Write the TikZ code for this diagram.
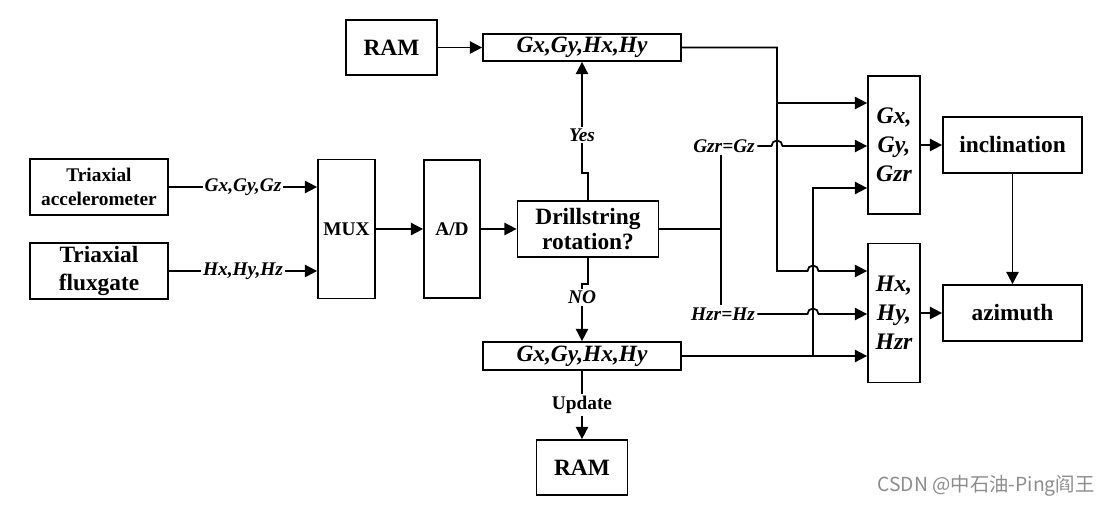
\documentclass[tikz,border=0pt]{standalone}
\usepackage{fontspec}
\setmainfont{Liberation Serif}
\newfontfamily\markfont{Noto Sans CJK SC}
\usetikzlibrary{arrows.meta,positioning,calc}

\begin{document}
\begin{tikzpicture}[x=0.02cm,y=-0.02cm,>={Triangle[length=7pt,width=7pt]},line width=1pt,
  blk/.style={draw,align=center,inner sep=0pt,font=\bfseries\fontsize{13.3}{15.5}\selectfont},
  sig/.style={fill=white,inner sep=1pt,font=\bfseries\itshape\fontsize{11}{13}\selectfont}]
  \useasboundingbox (0,0) rectangle (1109,508);
  % sensors and conversion
  \node[blk,minimum width=2.76cm,minimum height=1.12cm,font=\bfseries\fontsize{11}{13.5}\selectfont] (acc) at (99,187) {Triaxial\\accelerometer};
  \node[blk,minimum width=2.76cm,minimum height=1.12cm,font=\bfseries\fontsize{13.3}{16}\selectfont] (flux) at (99,271) {Triaxial\\fluxgate};
  \node[blk,minimum width=1.14cm,minimum height=2.78cm,font=\bfseries\fontsize{11}{13}\selectfont] (mux) at (346.5,229) {MUX};
  \node[blk,minimum width=1.12cm,minimum height=2.76cm,font=\bfseries\fontsize{11}{13}\selectfont] (ad) at (452,229) {A/D};
  \node[blk,minimum width=2.82cm,minimum height=1.12cm,font=\bfseries\fontsize{13.3}{14.7}\selectfont] (drill) at (588,229) {Drillstring\\rotation?};
  % stored values
  \node[blk,minimum width=1.82cm,minimum height=1.1cm] (ramtop) at (391.5,47.5) {RAM};
  \node[blk,minimum width=3.96cm,minimum height=0.54cm] (gtop) at (582,47.5) {\itshape Gx,Gy,Hx,Hy};
  \node[blk,minimum width=3.96cm,minimum height=0.56cm] (gbot) at (582,356) {\itshape Gx,Gy,Hx,Hy};
  \node[blk,minimum width=1.82cm,minimum height=1.1cm] (rambot) at (582,467.5) {RAM};
  % calculation
  \node[blk,minimum width=1.04cm,minimum height=2.76cm,font=\bfseries\itshape\fontsize{13.5}{16.5}\selectfont] (gbox) at (894,145) {Gx,\\Gy,\\Gzr};
  \node[blk,minimum width=1.04cm,minimum height=2.78cm,font=\bfseries\itshape\fontsize{13.5}{16.5}\selectfont] (hbox) at (894,313) {Hx,\\Hy,\\Hzr};
  \node[blk,minimum width=2.78cm,minimum height=1.12cm] (incl) at (1012.5,145) {inclination};
  \node[blk,minimum width=2.78cm,minimum height=1.12cm] (azi) at (1012.5,313) {azimuth};
  % line labels and bends
  \node[sig,fill=none] (gzr) at (724,146) {Gzr=Gz};
  \node[sig,fill=none] (hzr) at (723,314) {Hzr=Hz};
  \coordinate (split) at (721,229);
  \coordinate (tG) at (777,103);
  \coordinate (tH) at (777,271);
  \coordinate (bG) at (813,188);
  \coordinate (bH) at (813,356);
  % connectors
  \draw[->] (acc) -- node[sig] {Gx,Gy,Gz} (acc -| mux.west);
  \draw[->] (flux) -- node[sig] {Hx,Hy,Hz} (flux -| mux.west);
  \draw[->] (mux) -- (ad);
  \draw[->] (ad) -- (drill);
  \draw[->] (ramtop) -- (gtop);
  \draw[->] (drill.north) -- ++(0,-27) -| node[sig,pos=0.67] {Yes} (gtop.south);
  \draw[->] (drill.south) -- ++(0,26) -| node[sig,pos=0.62] {NO} (gbot.north);
  \draw[->] (gbot) -- node[sig,font=\bfseries\fontsize{11}{13}\selectfont] {Update} (rambot);
  \draw (drill.east) -- (split);
  \draw (split |- gzr.south) -- (split |- hzr.north);
  \draw[->] (gzr.east) -- ($(tH |- gzr.east)+(-5.5,0)$) arc[start angle=180,end angle=0,radius=0.11cm] -- (gbox.west |- gzr.east);
  \draw[->] (hzr.east) -- ($(bH |- hzr.east)+(-5.5,0)$) arc[start angle=180,end angle=0,radius=0.11cm] -- (hbox.west |- hzr.east);
  \draw[->] (gtop.east) -| (tH) -- ($(bH |- tH)+(-5.5,0)$) arc[start angle=180,end angle=0,radius=0.11cm] -- (hbox.west |- tH);
  \draw[->] (tG) -- (gbox.west |- tG);
  \draw[->] (gbot.east) -- (hbox.west |- gbot.east);
  \draw[->] (bH) |- (gbox.west |- bG);
  \draw[->] (gbox) -- (incl);
  \draw[->] (hbox) -- (azi);
  \draw[->] (incl) -- (azi);
  % watermark
  \node[font=\markfont\fontsize{11}{13}\selectfont,text=black!45] (mark) at (986,486) {CSDN @中石油-Ping阎王};
\end{tikzpicture}
\end{document}
